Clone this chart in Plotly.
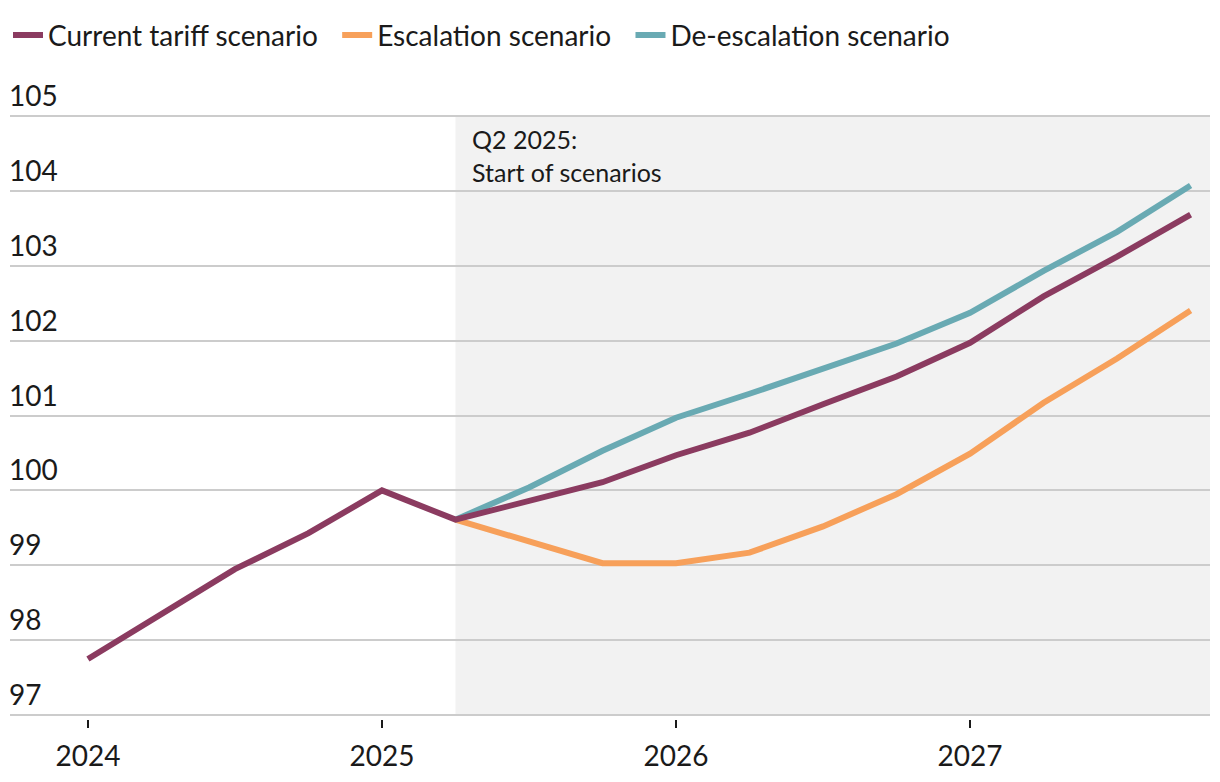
import plotly.graph_objects as go

quarters = [2024.0, 2024.25, 2024.5, 2024.75, 2025.0, 2025.25, 2025.5, 2025.75,
            2026.0, 2026.25, 2026.5, 2026.75, 2027.0, 2027.25, 2027.5, 2027.75]
current = [97.75, 98.36, 98.95, 99.43, 100.0, 99.61, 99.87, 100.11,
           100.47, 100.77, 101.15, 101.52, 101.97, 102.59, 103.12, 103.68]
scen_x = [2025.25, 2025.5, 2025.75, 2026.0, 2026.25, 2026.5, 2026.75,
          2027.0, 2027.25, 2027.5, 2027.75]
escalation = [99.61, 99.32, 99.03, 99.03, 99.17, 99.52, 99.95,
              100.49, 101.17, 101.76, 102.40]
deescalation = [99.61, 100.04, 100.53, 100.97, 101.29, 101.63, 101.96,
                102.37, 102.93, 103.45, 104.07]
year_ticks = [2024, 2025, 2026, 2027]
y_ticks = [97, 98, 99, 100, 101, 102, 103, 104, 105]
scenario_start = 2025.25

FONT = "Lato"
TXT = "#1a1a1a"
FS = 28
PAD = "\u00a0\u00a0"

fig = go.Figure()
fig.add_trace(go.Scatter(x=scen_x, y=escalation, mode="lines", name="Escalation scenario" + PAD,
                         line=dict(color="#F7A05A", width=6), legendrank=2))
fig.add_trace(go.Scatter(x=scen_x, y=deescalation, mode="lines", name="De-escalation scenario",
                         line=dict(color="#69AAB3", width=6), legendrank=3))
fig.add_trace(go.Scatter(x=quarters, y=current, mode="lines", name="Current tariff scenario" + PAD,
                         line=dict(color="#8B3B60", width=6), legendrank=1))

fig.add_shape(type="rect", xref="x", yref="y", x0=scenario_start, x1=2027.9,
              y0=97, y1=105, fillcolor="#F2F2F2", line_width=0, layer="below")
fig.add_annotation(x=scenario_start, y=104.91, xref="x", yref="y", xanchor="left", yanchor="top",
                   xshift=15, showarrow=False, align="left",
                   text="Q2 2025:<br>Start of scenarios",
                   font=dict(family=FONT, size=25, color=TXT))

for v in y_ticks:
    fig.add_annotation(x=0, xref="paper", y=v, yref="y", xanchor="left", yanchor="bottom",
                       xshift=-3, yshift=2, showarrow=False, text=str(v),
                       font=dict(family=FONT, size=FS, color=TXT))

fig.update_layout(
    width=1220, height=782,
    margin=dict(l=2, r=18, t=103.75, b=70.55, autoexpand=False),
    paper_bgcolor="white", plot_bgcolor="white",
    font=dict(family=FONT, size=FS, color=TXT),
    showlegend=True,
    legend=dict(orientation="h", x=0, xref="container", xanchor="left",
                y=0.997, yref="container", yanchor="top",
                font=dict(size=FS), itemwidth=30, traceorder="normal",
                bgcolor="rgba(0,0,0,0)"),
    hovermode=False,
)
fig.update_xaxes(range=[2023.735, 2027.816], tickvals=year_ticks, ticktext=[str(v) for v in year_ticks],
                 showgrid=False, zeroline=False, showline=False, automargin=False,
                 ticks="outside", ticklen=8, tickwidth=2, tickcolor=TXT,
                 ticklabelstandoff=4,
                 tickfont=dict(size=FS, color=TXT))
fig.update_yaxes(range=[96.95, 105.05], tickvals=y_ticks, showgrid=True, gridcolor="#CCCCCC", gridwidth=2,
                 zeroline=False, showline=False, ticks="", showticklabels=False, automargin=False)

fig.write_html("out.html")
